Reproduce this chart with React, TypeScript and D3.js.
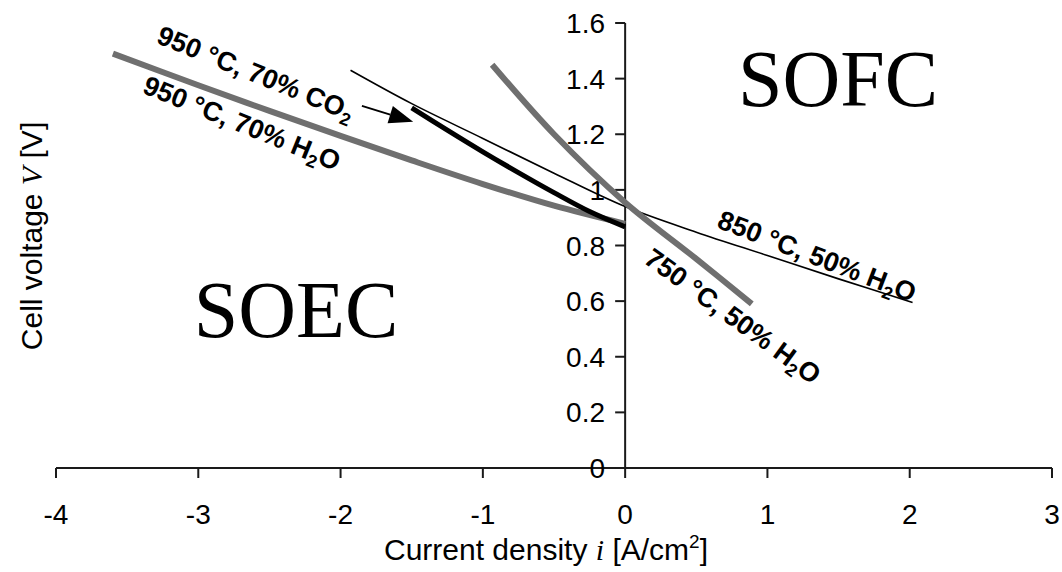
import React from "react";
import * as d3 from "d3";

const W = 1062;
const H = 572;

// x ticks and y ticks
const xTicks = [-4, -3, -2, -1, 0, 1, 2, 3];
const yTicks = [0, 0.2, 0.4, 0.6, 0.8, 1, 1.2, 1.4, 1.6];

// series: [current density i, cell voltage V]
const h2o950: [number, number][] = [
  [-3.6, 1.49], [-3, 1.376], [-2.5, 1.284], [-2, 1.194], [-1.5, 1.106],
  [-1, 1.021], [-0.5, 0.943], [0, 0.878],
];
const co2950: [number, number][] = [
  [-1.5, 1.295], [-1.25, 1.215], [-1, 1.137], [-0.75, 1.062], [-0.5, 0.99],
  [-0.25, 0.922], [0, 0.867],
];
const h2o850: [number, number][] = [
  [-1.93, 1.43], [-1.5, 1.31], [-1, 1.185], [-0.5, 1.06], [0, 0.94],
  [0.5, 0.848], [1, 0.764], [1.5, 0.68], [2.02, 0.595],
];
const h2o750: [number, number][] = [
  [-0.935, 1.45], [-0.5, 1.2], [0, 0.955], [0.5, 0.752], [0.89, 0.59],
];

// arrow pointing at CO2 curve (data coords)
const arrowFrom: [number, number] = [-1.85, 1.302];
const arrowTo: [number, number] = [-1.49, 1.245];

const x = d3.scaleLinear().domain([-4, 3]).range([56, 1052]);
const y = d3.scaleLinear().domain([0, 1.6]).range([468, 23]);

const line = d3
  .line<[number, number]>()
  .x((d) => x(d[0]))
  .y((d) => y(d[1]))
  .curve(d3.curveCatmullRom.alpha(0.5));

const AX = "#1a1a1a";
const GRAY = "#6f6f6f";
const SANS = "'Liberation Sans', Arial, sans-serif";
const SERIF = "'Liberation Serif', 'Times New Roman', serif";

function Label({ cx, cy, angle, pre, sub, post }: { cx: number; cy: number; angle: number; pre: string; sub: string; post: string }) {
  return (
    <text
      transform={`translate(${cx},${cy}) rotate(${angle})`}
      textAnchor="middle"
      dy="0.35em"
      fontFamily={SANS}
      fontWeight="bold"
      fontSize={27}
      fill="#000"
    >
      {pre}
      <tspan fontSize={18} dy="6">{sub}</tspan>
      <tspan dy="-6">{post}</tspan>
    </text>
  );
}

export default function App() {
  const x0 = x(0);
  const y0 = y(0);
  const ax1 = x(arrowFrom[0]);
  const ay1 = y(arrowFrom[1]);
  const ax2 = x(arrowTo[0]);
  const ay2 = y(arrowTo[1]);
  const ang = Math.atan2(ay2 - ay1, ax2 - ax1);
  const hl = 24;
  const hw = 9;
  const bx = ax2 - hl * Math.cos(ang);
  const by = ay2 - hl * Math.sin(ang);
  const head = `M${ax2},${ay2} L${bx - hw * Math.sin(ang)},${by + hw * Math.cos(ang)} L${bx + hw * Math.sin(ang)},${by - hw * Math.cos(ang)} Z`;

  return (
    <svg
      width={W}
      height={H}
      style={{ position: "absolute", left: 0, top: 0, background: "#fff" }}
    >
      {/* x axis */}
      <line x1={x(-4)} x2={x(3)} y1={y0} y2={y0} stroke={AX} strokeWidth={2} />
      {xTicks.map((t) => (
        <g key={"x" + t}>
          <line x1={x(t)} x2={x(t)} y1={y0} y2={y0 + 10} stroke={AX} strokeWidth={2} />
          <text x={x(t)} y={524} textAnchor="middle" fontFamily={SANS} fontSize={28} fill="#000">
            {t}
          </text>
        </g>
      ))}
      {/* y axis */}
      <line x1={x0} x2={x0} y1={y(1.6)} y2={y0} stroke={AX} strokeWidth={2} />
      {yTicks.map((t) => (
        <g key={"y" + t}>
          <line x1={x0 - 10} x2={x0} y1={y(t)} y2={y(t)} stroke={AX} strokeWidth={2} />
          <text x={605} y={y(t)} dy="0.36em" textAnchor="end" fontFamily={SANS} fontSize={28} fill="#000">
            {d3.format("~g")(t)}
          </text>
        </g>
      ))}

      {/* axis titles */}
      <text x={546} y={560} textAnchor="middle" fontFamily={SANS} fontSize={30} fill="#000">
        Current density <tspan fontFamily={SERIF} fontStyle="italic">i</tspan> [A/cm
        <tspan fontSize={19} dy="-12">2</tspan>
        <tspan dy="12">]</tspan>
      </text>
      <text
        transform="translate(42,236) rotate(-90)"
        textAnchor="middle"
        fontFamily={SANS}
        fontSize={30}
        fill="#000"
      >
        Cell voltage <tspan fontFamily={SERIF} fontStyle="italic">V</tspan> [V]
      </text>

      {/* region labels */}
      <text x={838} y={106} textAnchor="middle" fontFamily={SERIF} fontSize={80} fill="#000">
        SOFC
      </text>
      <text x={296} y={337} textAnchor="middle" fontFamily={SERIF} fontSize={80} fill="#000">
        SOEC
      </text>

      {/* curves */}
      <path d={line(h2o850) || ""} fill="none" stroke="#000" strokeWidth={1.6} />
      <path d={line(h2o950) || ""} fill="none" stroke={GRAY} strokeWidth={6} />
      <path d={line(co2950) || ""} fill="none" stroke="#000" strokeWidth={5} />
      <path d={line(h2o750) || ""} fill="none" stroke={GRAY} strokeWidth={6} />

      {/* arrow */}
      <line x1={ax1} y1={ay1} x2={bx} y2={by} stroke="#000" strokeWidth={2} />
      <path d={head} fill="#000" />

      {/* annotations */}
      <Label cx={256} cy={73} angle={22} pre="950 °C, 70% CO" sub="2" post="" />
      <Label cx={242} cy={123} angle={22} pre="950 °C, 70% H" sub="2" post="O" />
      <Label cx={817} cy={256} angle={21} pre="850 °C, 50% H" sub="2" post="O" />
      <Label cx={733} cy={316} angle={36} pre="750 °C, 50% H" sub="2" post="O" />
    </svg>
  );
}
